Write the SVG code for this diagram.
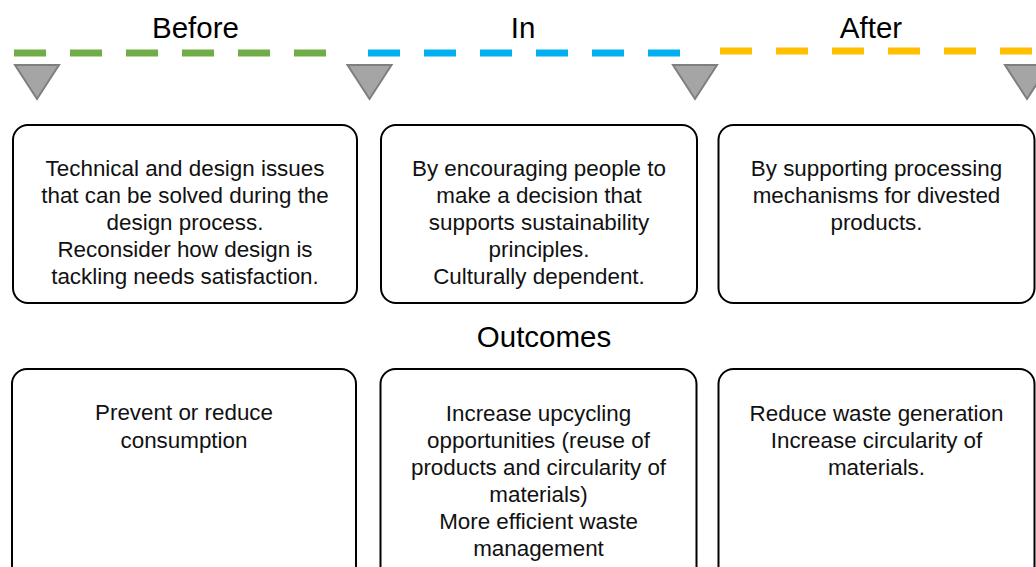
<svg xmlns="http://www.w3.org/2000/svg" width="1036" height="567" viewBox="0 0 1036 567">
<style>
.title{font-family:"Liberation Sans",Arial,sans-serif;font-size:29.5px;fill:#000;text-anchor:middle}
.body{font-family:"Liberation Sans",Arial,sans-serif;font-size:22.4px;fill:#111;text-anchor:middle}
.box{fill:#fff;stroke:#000;stroke-width:2}
.tri{fill:#a5a5a5;stroke:#7f7f7f;stroke-width:2;stroke-linejoin:miter}
.dash{stroke-width:7;stroke-dasharray:32 24;fill:none}
</style>
<rect width="1036" height="567" fill="#fff"/>
<g id="timeline">
<line class="dash" x1="14" y1="53" x2="326" y2="53" stroke="#70ad47"/>
<line class="dash" x1="368" y1="53" x2="680" y2="53" stroke="#00b0f0"/>
<line class="dash" x1="720" y1="51" x2="1033" y2="51" stroke="#ffc000"/>
<polygon class="tri" points="15,65 59,65 37,99"/>
<polygon class="tri" points="347.5,65 391.5,65 369.5,99"/>
<polygon class="tri" points="673,65 717,65 695,99"/>
<polygon class="tri" points="1005,65 1049,65 1027,99"/>
</g>
<g id="titles">
<text class="title" x="195.5" y="37.5">Before</text>
<text class="title" x="523" y="37.5">In</text>
<text class="title" x="871" y="37.5">After</text>
<text class="title" x="544" y="347">Outcomes</text>
</g>
<g id="before">
<rect class="box" x="13" y="125" width="344" height="178" rx="15"/>
<text class="body" x="185"><tspan x="185" y="176">Technical and design issues</tspan><tspan x="185" y="203">that can be solved during the</tspan><tspan x="185" y="230">design process.</tspan><tspan x="185" y="257">Reconsider how design is</tspan><tspan x="185" y="284">tackling needs satisfaction.</tspan></text>
</g>
<g id="in">
<rect class="box" x="381" y="125" width="316" height="178" rx="15"/>
<text class="body" x="539"><tspan x="539" y="176">By encouraging people to</tspan><tspan x="539" y="203">make a decision that</tspan><tspan x="539" y="230">supports sustainability</tspan><tspan x="539" y="257">principles.</tspan><tspan x="539" y="284">Culturally dependent.</tspan></text>
</g>
<g id="after">
<rect class="box" x="718.5" y="125" width="316" height="178" rx="15"/>
<text class="body" x="876.5"><tspan x="876.5" y="176">By supporting processing</tspan><tspan x="876.5" y="203">mechanisms for divested</tspan><tspan x="876.5" y="230">products.</tspan></text>
</g>
<g id="outcome-before">
<rect class="box" x="12" y="369" width="344" height="240" rx="15"/>
<text class="body" x="184"><tspan x="184" y="420">Prevent or reduce</tspan><tspan x="184" y="448">consumption</tspan></text>
</g>
<g id="outcome-in">
<rect class="box" x="380.5" y="369" width="316" height="240" rx="15"/>
<text class="body" x="538.5"><tspan x="538.5" y="421">Increase upcycling</tspan><tspan x="538.5" y="448">opportunities (reuse of</tspan><tspan x="538.5" y="475">products and circularity of</tspan><tspan x="538.5" y="502">materials)</tspan><tspan x="538.5" y="529">More efficient waste</tspan><tspan x="538.5" y="556">management</tspan></text>
</g>
<g id="outcome-after">
<rect class="box" x="718.5" y="369" width="316" height="240" rx="15"/>
<text class="body" x="876.5"><tspan x="876.5" y="421">Reduce waste generation</tspan><tspan x="876.5" y="448">Increase circularity of</tspan><tspan x="876.5" y="475">materials.</tspan></text>
</g>
</svg>
